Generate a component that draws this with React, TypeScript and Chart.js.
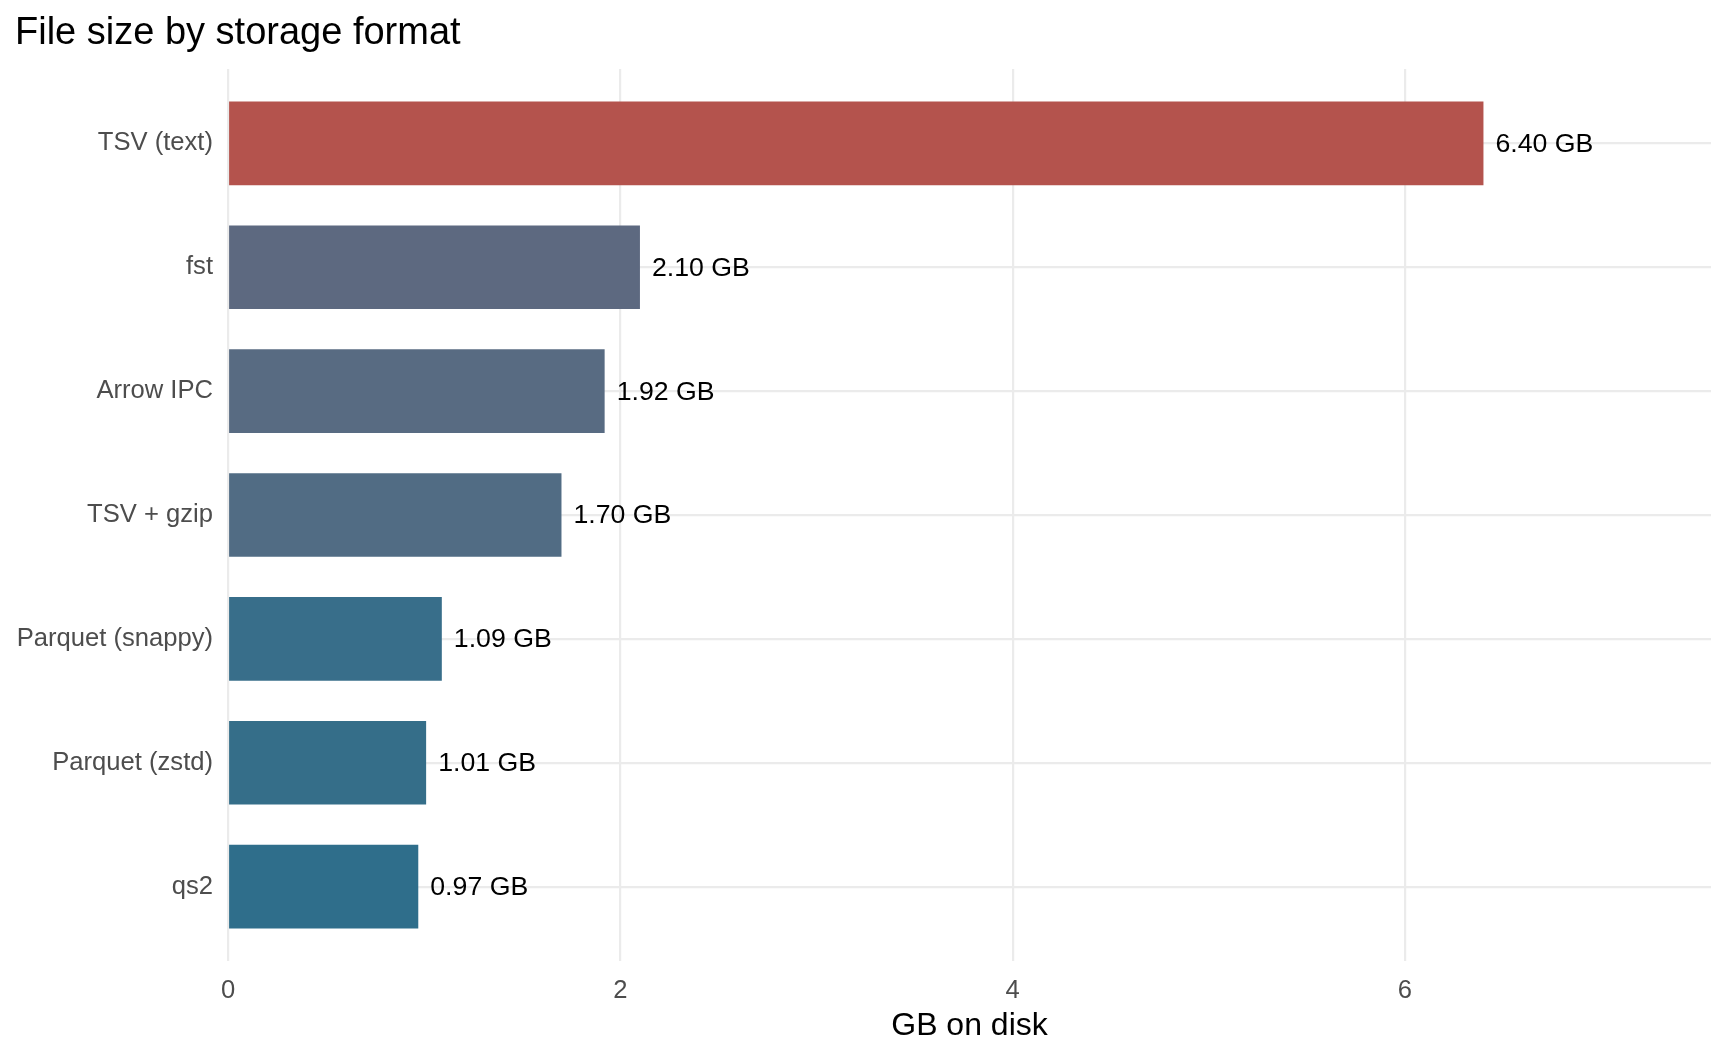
import React, { useEffect, useRef } from 'react';
import Chart from 'chart.js/auto';

// Dados do gráfico
const formats: string[] = [
  'TSV (text)',
  'fst',
  'Arrow IPC',
  'TSV + gzip',
  'Parquet (snappy)',
  'Parquet (zstd)',
  'qs2',
];
const sizesGb: number[] = [6.4, 2.1, 1.92, 1.7, 1.09, 1.01, 0.97];
const barColors: string[] = [
  '#B4534D',
  '#5D6980',
  '#586B82',
  '#516C84',
  '#386E8A',
  '#356E89',
  '#2F6E8B',
];
const xTicks: number[] = [0, 2, 4, 6];

const FONT = "'Liberation Sans', Arial, sans-serif";

// Rótulos de valor no fim de cada barra
const valueLabels = {
  id: 'valueLabels',
  afterDatasetsDraw(chart: any) {
    const { ctx } = chart;
    const meta = chart.getDatasetMeta(0);
    ctx.save();
    ctx.font = `26.7px ${FONT}`;
    ctx.fillStyle = '#000000';
    ctx.textAlign = 'left';
    ctx.textBaseline = 'middle';
    meta.data.forEach((bar: any, i: number) => {
      ctx.fillText(`${sizesGb[i].toFixed(2)} GB`, bar.x + 12, bar.y + 1);
    });
    ctx.restore();
  },
};

const App: React.FC = () => {
  const chartRef = useRef<HTMLCanvasElement | null>(null);
  const chartInstanceRef = useRef<Chart | null>(null);

  useEffect(() => {
    document.body.style.margin = '0';
    if (!chartRef.current) return;
    const ctx = chartRef.current.getContext('2d');
    if (!ctx) return;

    if (chartInstanceRef.current) {
      chartInstanceRef.current.destroy();
    }

    chartInstanceRef.current = new Chart(ctx, {
      type: 'bar',
      data: {
        datasets: [
          {
            data: sizesGb.map((v, i) => ({ x: v, y: i })),
            backgroundColor: barColors,
            borderWidth: 0,
            barPercentage: 0.675,
            categoryPercentage: 1,
          },
        ],
      },
      options: {
        indexAxis: 'y',
        responsive: false,
        animation: false,
        devicePixelRatio: 1,
        layout: { padding: { left: 15, right: 17, top: 0, bottom: 0 } },
        plugins: {
          legend: { display: false },
          tooltip: { enabled: false },
          title: {
            display: true,
            text: 'File size by storage format',
            align: 'start',
            color: '#000000',
            font: { family: FONT, size: 38, weight: 'normal', lineHeight: 1.2 },
            padding: { top: 11, bottom: 12.5 },
          },
        },
        scales: {
          x: {
            type: 'linear',
            min: 0,
            max: 7.56,
            afterBuildTicks: (scale: any) => {
              scale.ticks = xTicks.map((v) => ({ value: v }));
            },
            ticks: {
              color: '#4D4D4D',
              font: { family: FONT, size: 25.6 },
              padding: 15,
              maxRotation: 0,
            },
            grid: { color: '#EBEBEB', lineWidth: 2.2, drawTicks: false },
            border: { display: false },
            title: {
              display: true,
              text: 'GB on disk',
              color: '#000000',
              font: { family: FONT, size: 32, lineHeight: 1.2 },
              padding: { top: 0, bottom: 10.5 },
            },
            afterFit: (scale: any) => {
              scale.height = 95;
            },
          },
          y: {
            type: 'linear',
            min: -0.6,
            max: 6.6,
            reverse: true,
            offset: false,
            afterBuildTicks: (scale: any) => {
              scale.ticks = formats.map((_, i) => ({ value: i }));
            },
            ticks: {
              color: '#4D4D4D',
              font: { family: FONT, size: 25.6 },
              padding: 15,
              callback: (value: any) => formats[Number(value)] ?? '',
            },
            grid: { color: '#EBEBEB', lineWidth: 2.2, drawTicks: false, offset: false },
            border: { display: false },
            afterFit: (scale: any) => {
              scale.width = 213;
            },
          },
        },
      },
      plugins: [valueLabels],
    });

    return () => {
      if (chartInstanceRef.current) {
        chartInstanceRef.current.destroy();
        chartInstanceRef.current = null;
      }
    };
  }, []);

  return (
    <div style={{ width: 1728, height: 1056, background: '#ffffff' }}>
      <canvas ref={chartRef} width={1728} height={1056} style={{ display: 'block' }} />
    </div>
  );
};

export default App;
